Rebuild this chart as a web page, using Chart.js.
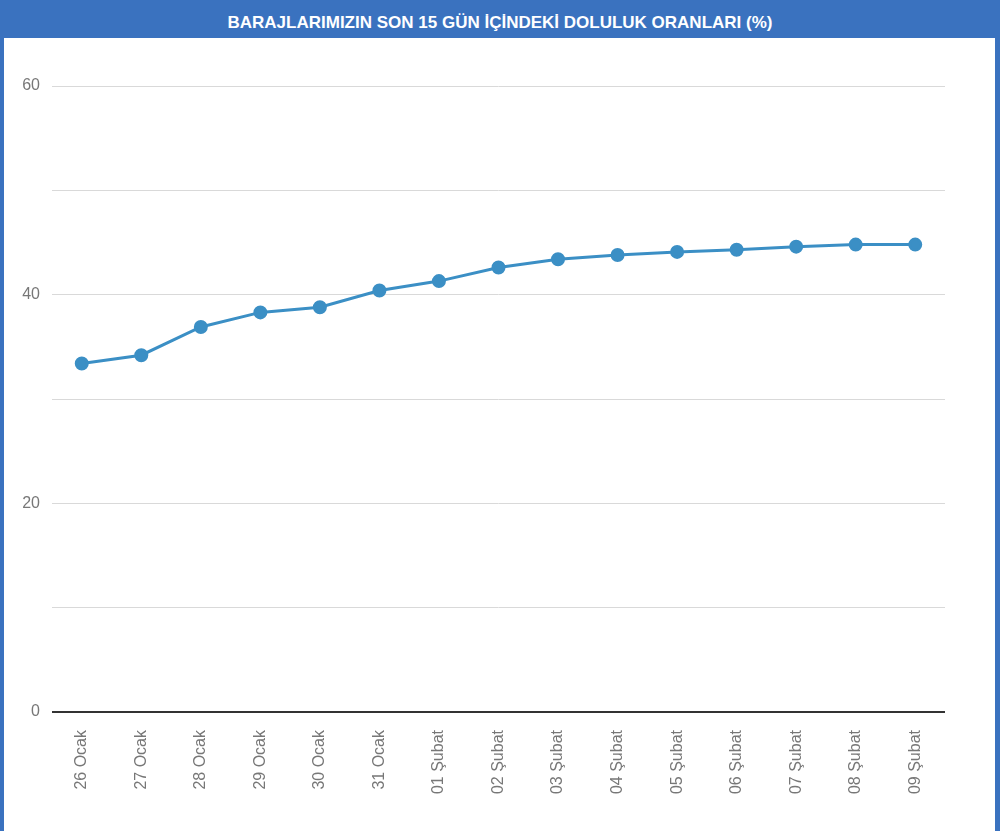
<!DOCTYPE html>
<html>
<head>
<meta charset="utf-8">
<script src="https://cdn.jsdelivr.net/npm/chart.js@4"></script>
<style>
  html, body { margin: 0; padding: 0; }
  body { width: 1000px; height: 831px; background: #3a72bf; position: relative; overflow: hidden; }
  #title { position: absolute; left: 0; top: 0; width: 1000px; height: 38px;
    font: bold 17px "Liberation Sans", Arial, sans-serif; line-height: 46px;
    text-align: center; color: #fff; }
  #panel { position: absolute; left: 4px; top: 38px; width: 991px; height: 793px; background: #fff; }
</style>
</head>
<body>
<div id="title">BARAJLARIMIZIN SON 15 GÜN İÇİNDEKİ DOLULUK ORANLARI (%)</div>
<div id="panel"><canvas id="chart" width="991" height="793"></canvas></div>
<script>
const days = ["26 Ocak", "27 Ocak", "28 Ocak", "29 Ocak", "30 Ocak", "31 Ocak",
  "01 Şubat", "02 Şubat", "03 Şubat", "04 Şubat", "05 Şubat", "06 Şubat",
  "07 Şubat", "08 Şubat", "09 Şubat"];
const fillRates = [33.4, 34.2, 36.9, 38.3, 38.8, 40.4, 41.3, 42.6, 43.4, 43.8, 44.1, 44.3, 44.6, 44.8, 44.8];
const yLabeled = [0, 20, 40, 60];

const font = { family: "'Liberation Sans', Arial, sans-serif", size: 16 };

new Chart(document.getElementById("chart"), {
  type: "line",
  data: {
    labels: days,
    datasets: [{
      data: fillRates,
      borderColor: "#3b8fc5",
      backgroundColor: "#3b8fc5",
      borderWidth: 3,
      pointRadius: 5.5,
      tension: 0,
      fill: false
    }]
  },
  options: {
    animation: false,
    responsive: false,
    layout: { padding: { top: 48, right: 50, left: 0, bottom: 0 } },
    plugins: { legend: { display: false }, tooltip: { enabled: false } },
    scales: {
      y: {
        min: 0,
        max: 60,
        ticks: {
          stepSize: 10,
          color: "#777",
          font: font,
          padding: 12,
          callback: v => (yLabeled.includes(v) ? v : "")
        },
        border: { display: false },
        grid: {
          drawTicks: false,
          color: ctx => (ctx.tick && ctx.tick.value === 0 ? "#333" : "#d9d9d9"),
          lineWidth: ctx => (ctx.tick && ctx.tick.value === 0 ? 2 : 1)
        },
        afterFit: s => { s.width = 48; }
      },
      x: {
        offset: true,
        ticks: { color: "#777", font: font, minRotation: 90, maxRotation: 90, padding: 10 },
        border: { display: false },
        grid: { display: false },
        afterFit: s => { s.height = 119; }
      }
    }
  }
});
</script>
</body>
</html>
